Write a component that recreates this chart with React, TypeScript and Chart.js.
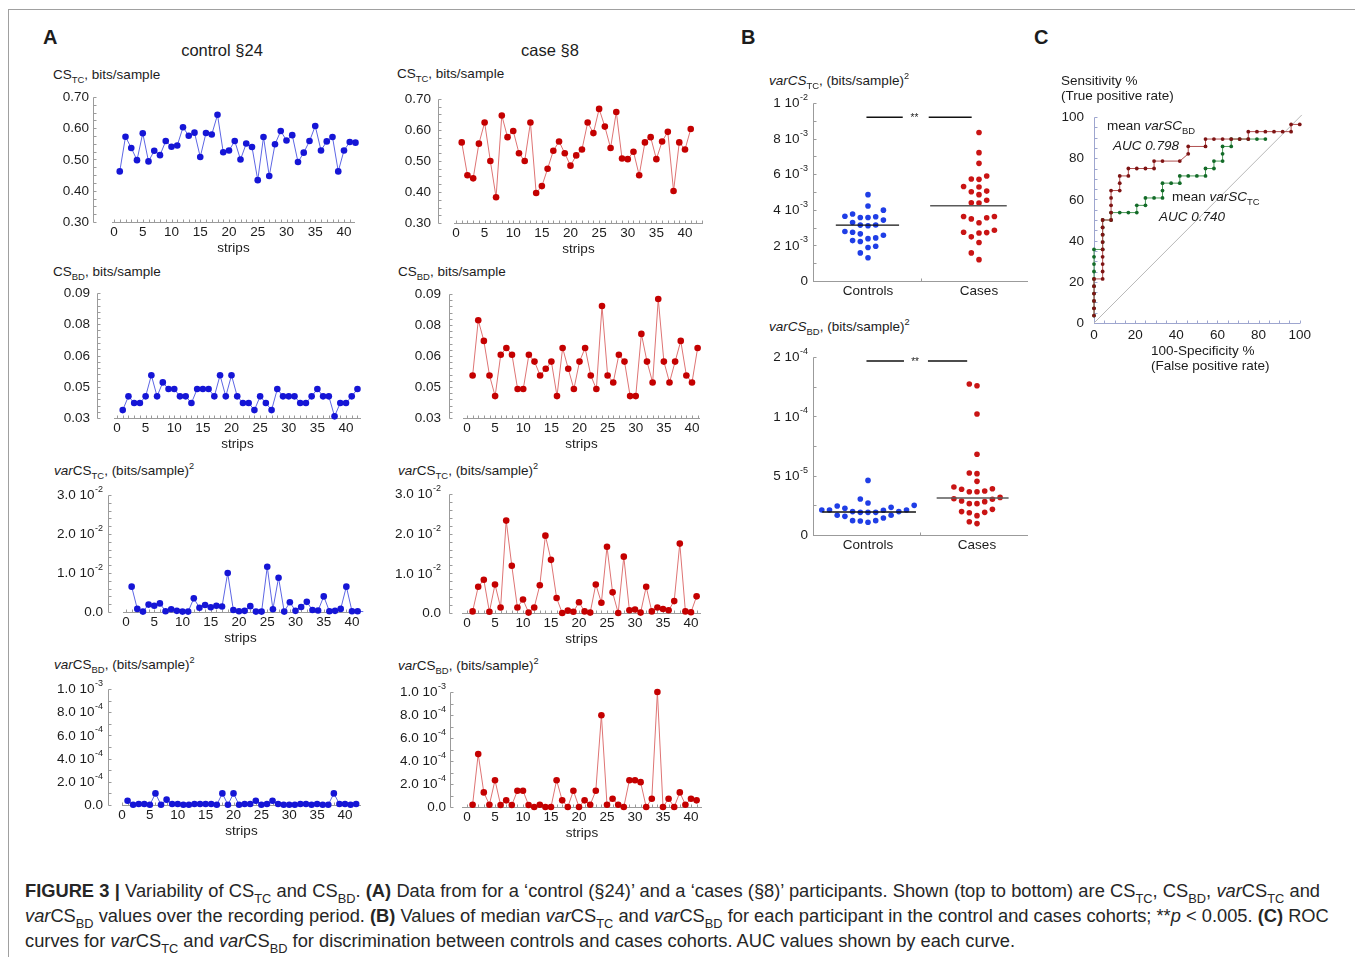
import React, { useEffect, useRef } from 'react';
import { Chart, registerables } from 'chart.js';

Chart.register(...registerables);

const FONT = '"Liberation Sans", Arial, Helvetica, sans-serif';
const INK = '#1c1c1c';
const AXIS_GREY = '#9b9b9b';

// ================= Panel A data (strip-by-strip values) =================
const stripTicks = [0, 5, 10, 15, 20, 25, 30, 35, 40];

const ctrlCSTC = [0.462, 0.573, 0.537, 0.498, 0.584, 0.494, 0.528, 0.514, 0.559, 0.541, 0.545, 0.603, 0.576, 0.586, 0.508, 0.585, 0.580, 0.643, 0.523, 0.529, 0.559, 0.500, 0.551, 0.540, 0.434, 0.572, 0.447, 0.549, 0.591, 0.561, 0.578, 0.492, 0.522, 0.559, 0.607, 0.529, 0.558, 0.572, 0.462, 0.529, 0.556, 0.554];
const caseCSTC = [0.560, 0.454, 0.444, 0.556, 0.624, 0.500, 0.383, 0.647, 0.577, 0.597, 0.525, 0.500, 0.624, 0.397, 0.419, 0.475, 0.533, 0.563, 0.525, 0.485, 0.518, 0.537, 0.624, 0.590, 0.668, 0.611, 0.542, 0.658, 0.508, 0.506, 0.530, 0.454, 0.560, 0.577, 0.506, 0.563, 0.594, 0.403, 0.560, 0.537, 0.603];
const ctrlCSBD = [0.0338, 0.0404, 0.0372, 0.0372, 0.0404, 0.0505, 0.0404, 0.0471, 0.0439, 0.0439, 0.0404, 0.0404, 0.0372, 0.0439, 0.0439, 0.0439, 0.0404, 0.0505, 0.0404, 0.0505, 0.0404, 0.0372, 0.0372, 0.0338, 0.0404, 0.0372, 0.0338, 0.0439, 0.0404, 0.0404, 0.0404, 0.0372, 0.0372, 0.0404, 0.0439, 0.0404, 0.0404, 0.0308, 0.0372, 0.0372, 0.0404, 0.0439];
const caseCSBD = [0.0506, 0.0773, 0.0673, 0.0506, 0.0406, 0.0606, 0.0639, 0.0606, 0.0440, 0.0440, 0.0606, 0.0573, 0.0506, 0.0538, 0.0573, 0.0406, 0.0639, 0.0538, 0.0440, 0.0573, 0.0639, 0.0506, 0.0440, 0.0842, 0.0506, 0.0472, 0.0606, 0.0573, 0.0406, 0.0406, 0.0707, 0.0573, 0.0472, 0.0876, 0.0573, 0.0472, 0.0573, 0.0673, 0.0506, 0.0472, 0.0639];
// varCS_TC in units of 1e-2 (bits/sample)^2
const ctrlVarCSTC_e2 = [0.65, 0.08, 0.01, 0.19, 0.16, 0.22, 0.02, 0.07, 0.03, 0.01, 0.01, 0.35, 0.11, 0.18, 0.12, 0.16, 0.14, 1.00, 0.05, 0.02, 0.03, 0.15, 0.01, 0.01, 1.16, 0.07, 0.88, 0.01, 0.25, 0.03, 0.13, 0.26, 0.05, 0.04, 0.40, 0.02, 0.03, 0.08, 0.65, 0.02, 0.02, 0.01];
const caseVarCSTC_e2 = [0.04, 0.66, 0.84, 0.03, 0.72, 0.14, 2.33, 1.19, 0.14, 0.34, 0.01, 0.14, 0.70, 1.95, 1.34, 0.38, 0.00, 0.06, 0.03, 0.27, 0.04, 0.01, 0.72, 0.26, 1.67, 0.52, 0.00, 1.42, 0.07, 0.09, 0.01, 0.66, 0.04, 0.14, 0.10, 0.07, 0.30, 1.75, 0.04, 0.02, 0.42];
// varCS_BD in units of 1e-4 (bits/sample)^2
const ctrlVarCSBD_e4 = [0.37, 0.02, 0.09, 0.09, 0.02, 1.00, 0.02, 0.46, 0.09, 0.09, 0.02, 0.02, 0.09, 0.09, 0.09, 0.09, 0.02, 1.00, 0.02, 1.00, 0.02, 0.09, 0.09, 0.37, 0.02, 0.09, 0.37, 0.09, 0.02, 0.02, 0.02, 0.09, 0.09, 0.02, 0.09, 0.02, 0.02, 1.00, 0.09, 0.09, 0.02, 0.09];
const caseVarCSBD_e4 = [0.20, 4.60, 1.27, 0.20, 2.33, 0.17, 0.58, 0.17, 1.41, 1.41, 0.17, 0.00, 0.20, 0.00, 0.00, 2.33, 0.58, 0.00, 1.41, 0.00, 0.58, 0.20, 1.41, 7.98, 0.20, 0.72, 0.20, 0.00, 2.33, 2.33, 2.16, 0.00, 0.72, 10.0, 0.00, 0.72, 0.00, 1.27, 0.20, 0.72, 0.58];

// ================= Panel B data (median per participant) =================
const groupLabels = ['Controls', 'Cases'];
const ctrlMedVarTC_e3 = [4.85, 4.21, 3.98, 3.76, 3.64, 3.61, 3.57, 3.57, 3.42, 3.29, 3.15, 3.14, 3.10, 2.78, 2.74, 2.65, 2.57, 2.42, 2.38, 2.27, 2.22, 1.95, 1.88, 1.58, 1.31];
const caseMedVarTC_e3 = [8.34, 7.21, 6.61, 5.90, 5.73, 5.71, 5.31, 5.28, 5.05, 5.01, 4.85, 4.54, 4.39, 4.38, 3.62, 3.62, 3.55, 3.49, 3.27, 2.85, 2.74, 2.72, 2.70, 2.48, 2.16, 1.58, 1.20];
const ctrlMedVarBD_e5 = [4.60, 3.03, 2.70, 2.50, 2.44, 2.33, 2.25, 2.11, 2.11, 2.11, 2.08, 1.97, 1.97, 1.91, 1.91, 1.91, 1.66, 1.66, 1.57, 1.43, 1.21, 1.21, 1.18, 1.07];
const caseMedVarBD_e5 = [12.72, 12.58, 10.2, 6.80, 5.22, 5.17, 4.52, 4.04, 3.90, 3.85, 3.71, 3.65, 3.65, 3.17, 3.06, 3.01, 2.87, 2.81, 2.64, 2.64, 2.16, 1.97, 1.91, 1.88, 1.63, 1.12, 0.96];
const groupMedianVarTC = [3.14e-3, 4.23e-3];
const groupMedianVarBD = [1.94e-5, 3.12e-5];

// ================= Panel C data (ROC) =================
const rocTicks = [0, 20, 40, 60, 80, 100];
const rocBD_fpr = [0, 0, 0, 0, 0, 0, 4.2, 4.2, 4.2, 4.2, 4.2, 4.2, 4.2, 4.2, 4.2, 8.3, 8.3, 8.3, 8.3, 8.3, 12.5, 12.5, 12.5, 16.7, 16.7, 20.8, 25, 29.2, 29.2, 33.3, 41.7, 45.8, 45.8, 54.2, 54.2, 58.3, 62.5, 66.7, 70.8, 75, 75, 79.2, 83.3, 87.5, 91.7, 95.8, 95.8, 100];
const rocBD_tpr = [3.6, 7.1, 10.7, 14.3, 17.9, 21.4, 21.4, 25, 28.6, 32.1, 35.7, 39.3, 42.9, 46.4, 50, 50, 53.6, 57.1, 60.7, 64.3, 64.3, 67.9, 71.4, 71.4, 75, 75, 75, 75, 78.6, 78.6, 78.6, 82.1, 85.7, 85.7, 89.3, 89.3, 89.3, 89.3, 89.3, 89.3, 92.9, 92.9, 92.9, 92.9, 92.9, 92.9, 96.4, 96.4];
const rocTC_fpr = [0, 0, 0, 0, 0, 0, 0, 0, 0, 0, 4.2, 4.2, 4.2, 4.2, 4.2, 8.3, 8.3, 12.5, 16.7, 20.8, 20.8, 25, 25, 29.2, 33.3, 33.3, 33.3, 37.5, 41.7, 41.7, 45.8, 50, 54.2, 54.2, 58.3, 58.3, 62.5, 62.5, 62.5, 66.7, 66.7, 70.8, 75, 79.2, 83.3];
const rocTC_tpr = [3.6, 7.1, 10.7, 14.3, 17.9, 21.4, 25, 28.6, 32.1, 35.7, 35.7, 39.3, 42.9, 46.4, 50, 50, 53.6, 53.6, 53.6, 53.6, 57.1, 57.1, 60.7, 60.7, 60.7, 64.3, 67.9, 67.9, 67.9, 71.4, 71.4, 71.4, 71.4, 75, 75, 78.6, 78.6, 82.1, 85.7, 85.7, 89.3, 89.3, 89.3, 89.3, 89.3];
const chanceLine = [0, 101];

// ================= tick label tables =================
type Tick = { v: number; base: string; sup?: string };
const ticksCSTC: Tick[] = [
  { v: 0.3, base: '0.30' }, { v: 0.4, base: '0.40' }, { v: 0.5, base: '0.50' }, { v: 0.6, base: '0.60' }, { v: 0.7, base: '0.70' },
];
const ticksCSBD: Tick[] = [
  { v: 0.03, base: '0.03' }, { v: 0.045, base: '0.05' }, { v: 0.06, base: '0.06' }, { v: 0.075, base: '0.08' }, { v: 0.09, base: '0.09' },
];
const ticksVarTC: Tick[] = [
  { v: 0, base: '0.0' }, { v: 0.01, base: '1.0 10', sup: '-2' }, { v: 0.02, base: '2.0 10', sup: '-2' }, { v: 0.03, base: '3.0 10', sup: '-2' },
];
const ticksVarBD: Tick[] = [
  { v: 0, base: '0.0' }, { v: 2e-4, base: '2.0 10', sup: '-4' }, { v: 4e-4, base: '4.0 10', sup: '-4' },
  { v: 6e-4, base: '6.0 10', sup: '-4' }, { v: 8e-4, base: '8.0 10', sup: '-4' }, { v: 1e-3, base: '1.0 10', sup: '-3' },
];
const ticksB1: Tick[] = [
  { v: 0, base: '0' }, { v: 2e-3, base: '2 10', sup: '-3' }, { v: 4e-3, base: '4 10', sup: '-3' },
  { v: 6e-3, base: '6 10', sup: '-3' }, { v: 8e-3, base: '8 10', sup: '-3' }, { v: 1e-2, base: '1 10', sup: '-2' },
];
// axis runs 0 .. 1.5e-4; the top label is printed rounded to one digit
const ticksB2: Tick[] = [
  { v: 0, base: '0' }, { v: 5e-5, base: '5 10', sup: '-5' }, { v: 1e-4, base: '1 10', sup: '-4' }, { v: 1.5e-4, base: '2 10', sup: '-4' },
];
const ticksROC: Tick[] = rocTicks.map((v) => ({ v, base: String(v) }));

function steps(a: number, b: number, s: number) {
  const r: number[] = [];
  for (let k = 0; a + k * s <= b + s * 1e-6; k++) r.push(a + k * s);
  return r;
}

// ================= drawing helpers =================
function drawTickLabel(ctx: CanvasRenderingContext2D, right: number, y: number, t: Tick) {
  const baseFont = `13.5px ${FONT}`;
  const supFont = `9px ${FONT}`;
  ctx.font = supFont;
  const ws = t.sup ? ctx.measureText(t.sup).width + 0.5 : 0;
  ctx.font = baseFont;
  const wb = ctx.measureText(t.base).width;
  ctx.textAlign = 'left';
  ctx.textBaseline = 'middle';
  ctx.fillText(t.base, right - ws - wb, y + 0.5);
  if (t.sup) {
    ctx.font = supFont;
    ctx.fillText(t.sup, right - ws + 0.5, y - 5.5);
  }
}

interface AxisSpec {
  yOffset: number;
  labelRight: number;
  yMin: number;
  yMax: number;
  yTicks: Tick[];
  yMinor: number[];
  xFrom: number;
  xTo: number;
  xMinor: number[];
  tickLen: number;
  color: string;
  after?: (chart: any, ctx: CanvasRenderingContext2D) => void;
}

function axesPlugin(spec: AxisSpec) {
  return {
    id: 'detachedAxes',
    beforeDatasetsDraw(chart: any) {
      const ctx: CanvasRenderingContext2D = chart.ctx;
      const xs = chart.scales.x;
      const ys = chart.scales.y;
      const area = chart.chartArea;
      const ax = Math.round(area.left + spec.yOffset) + 0.5;
      const yb = Math.round(ys.getPixelForValue(spec.yMin)) + 0.5;
      const yt = Math.round(ys.getPixelForValue(spec.yMax)) + 0.5;
      ctx.save();
      ctx.strokeStyle = spec.color;
      ctx.lineWidth = 1;
      ctx.beginPath();
      ctx.moveTo(ax, yt);
      ctx.lineTo(ax, yb);
      for (const v of spec.yMinor) {
        const y = Math.round(ys.getPixelForValue(v)) + 0.5;
        ctx.moveTo(ax, y);
        ctx.lineTo(ax + spec.tickLen, y);
      }
      const x1 = Math.round(xs.getPixelForValue(spec.xFrom));
      const x2 = Math.round(xs.getPixelForValue(spec.xTo));
      ctx.moveTo(x1, yb);
      ctx.lineTo(x2, yb);
      for (const v of spec.xMinor) {
        const x = Math.round(xs.getPixelForValue(v)) + 0.5;
        ctx.moveTo(x, yb);
        ctx.lineTo(x, yb - spec.tickLen);
      }
      ctx.stroke();
      ctx.fillStyle = INK;
      for (const t of spec.yTicks) {
        drawTickLabel(ctx, area.left + spec.labelRight, ys.getPixelForValue(t.v), t);
      }
      if (spec.after) spec.after(chart, ctx);
      ctx.restore();
    },
  };
}

const baseOptions = {
  responsive: false,
  animation: false,
  devicePixelRatio: 1,
  events: [],
  plugins: { legend: { display: false }, tooltip: { enabled: false } },
};

function xTickScale(min: number, max: number, values: number[], labels: (v: number) => string, padding: number, height: number, title?: any) {
  return {
    type: 'linear',
    min,
    max,
    grid: { display: false, drawTicks: false },
    border: { display: false },
    afterBuildTicks: (s: any) => {
      s.ticks = values.map((v) => ({ value: v }));
    },
    afterFit: (s: any) => {
      s.height = height;
    },
    ticks: {
      autoSkip: false,
      maxRotation: 0,
      minRotation: 0,
      padding,
      color: INK,
      font: { family: FONT, size: 13.5 },
      callback: (v: any) => labels(Number(v)),
    },
    title: title || { display: false },
  };
}

type Box = { left: number; top: number; width: number; height: number; config: any };

// ================= Panel A builder =================
interface SeriesPanel {
  values: number[];
  kind: 'ctrl' | 'case';
  yMin: number;
  yMax: number;
  yTicks: Tick[];
  yMinor: number[];
  yAxisX: number;
  labelRight: number;
  left: number;
  right: number;
  top: number;
  bottom: number;
  x0: number;
  x40: number;
}

const SERIES_COLORS = {
  ctrl: { pt: '#1515d6', line: '#5d66e4' },
  case: { pt: '#c40000', line: '#de7474' },
};

function seriesBox(p: SeriesPanel): Box {
  const cl = p.yAxisX - 72;
  const ct = p.top - 10;
  const HX = 34;
  const width = p.right + 10 - cl;
  const height = p.bottom + HX + 2 - ct;
  const ppu = (p.x40 - p.x0) / 40;
  const xmin = (p.left - p.x0) / ppu;
  const xmax = (p.right - p.x0) / ppu;
  const col = SERIES_COLORS[p.kind];
  const config = {
    type: 'scatter',
    data: {
      datasets: [
        {
          data: p.values.map((v, i) => ({ x: i + 1, y: v })),
          showLine: true,
          borderColor: col.line,
          borderWidth: 1,
          pointRadius: 3.3,
          pointHoverRadius: 3.3,
          pointBackgroundColor: col.pt,
          pointBorderWidth: 0,
          clip: false,
        },
      ],
    },
    options: {
      ...baseOptions,
      layout: { padding: { left: p.left - cl, top: 10, right: 10, bottom: 2 } },
      scales: {
        x: xTickScale(xmin, xmax, stripTicks, (v) => String(v), 2, HX, {
          display: true,
          text: 'strips',
          color: INK,
          font: { family: FONT, size: 13.5 },
          padding: 0,
        }),
        y: { type: 'linear', min: p.yMin, max: p.yMax, display: false },
      },
    },
    plugins: [
      axesPlugin({
        yOffset: p.yAxisX - p.left,
        labelRight: p.labelRight - p.left,
        yMin: p.yMin,
        yMax: p.yMax,
        yTicks: p.yTicks,
        yMinor: p.yMinor,
        xFrom: xmin,
        xTo: xmax,
        xMinor: steps(Math.ceil(xmin), Math.floor(xmax), 1),
        tickLen: 3,
        color: AXIS_GREY,
      }),
    ],
  };
  return { left: cl, top: ct, width, height, config };
}

const seriesPanels: SeriesPanel[] = [
  { values: ctrlCSTC, kind: 'ctrl', yMin: 0.3, yMax: 0.7, yTicks: ticksCSTC, yMinor: steps(0.3, 0.7, 0.025), yAxisX: 93, labelRight: 89, left: 112, right: 355, top: 97, bottom: 222, x0: 114, x40: 344 },
  { values: caseCSTC, kind: 'case', yMin: 0.3, yMax: 0.7, yTicks: ticksCSTC, yMinor: steps(0.3, 0.7, 0.025), yAxisX: 438, labelRight: 431, left: 454, right: 703, top: 99, bottom: 223, x0: 456, x40: 685 },
  { values: ctrlCSBD, kind: 'ctrl', yMin: 0.03, yMax: 0.09, yTicks: ticksCSBD, yMinor: steps(0.03, 0.09, 0.003), yAxisX: 97, labelRight: 90, left: 114, right: 361, top: 293, bottom: 418, x0: 117, x40: 346 },
  { values: caseCSBD, kind: 'case', yMin: 0.03, yMax: 0.09, yTicks: ticksCSBD, yMinor: steps(0.03, 0.09, 0.003), yAxisX: 449, labelRight: 441, left: 463, right: 700, top: 294, bottom: 418, x0: 467, x40: 692 },
  { values: ctrlVarCSTC_e2.map((v) => v * 1e-2), kind: 'ctrl', yMin: 0, yMax: 0.03, yTicks: ticksVarTC, yMinor: steps(0, 0.03, 0.002), yAxisX: 108, labelRight: 103, left: 123, right: 358, top: 495, bottom: 612, x0: 126, x40: 352 },
  { values: caseVarCSTC_e2.map((v) => v * 1e-2), kind: 'case', yMin: 0, yMax: 0.03, yTicks: ticksVarTC, yMinor: steps(0, 0.03, 0.002), yAxisX: 449, labelRight: 441, left: 462, right: 701, top: 494, bottom: 613, x0: 467, x40: 691 },
  { values: ctrlVarCSBD_e4.map((v) => v * 1e-4), kind: 'ctrl', yMin: 0, yMax: 1e-3, yTicks: ticksVarBD, yMinor: steps(0, 1e-3, 1e-4), yAxisX: 108, labelRight: 103, left: 122, right: 361, top: 689, bottom: 805, x0: 122, x40: 345 },
  { values: caseVarCSBD_e4.map((v) => v * 1e-4), kind: 'case', yMin: 0, yMax: 1e-3, yTicks: ticksVarBD, yMinor: steps(0, 1e-3, 1e-4), yAxisX: 450, labelRight: 446, left: 462, right: 702, top: 692, bottom: 807, x0: 467, x40: 691 },
];

// ================= Panel B builder =================
function swarmOffsets(values: number[], pxPerY: number, colPx: number, minSep: number) {
  const order = values.map((_, i) => i).sort((a, b) => values[a] - values[b]);
  const placed: { col: number; y: number }[] = [];
  const off = new Array(values.length).fill(0);
  for (const i of order) {
    const y = values[i] * pxPerY;
    for (let k = 0; k < 60; k++) {
      const col = k === 0 ? 0 : k % 2 === 1 ? -(k + 1) / 2 : k / 2;
      if (placed.every((q) => q.col !== col || Math.abs(q.y - y) >= minSep)) {
        placed.push({ col, y });
        off[i] = col * colPx;
        break;
      }
    }
  }
  return off;
}

interface DotPanel {
  ctrl: number[];
  cases: number[];
  medians: number[];
  yMax: number;
  yTicks: Tick[];
  yMinor: number[];
  left: number;
  right: number;
  top: number;
  bottom: number;
  ctrlPx: number;
  casePx: number;
  medCtrlX: [number, number];
  medCaseX: [number, number];
  sigY: number;
  sigSegs: [number, number][];
  starX: number;
  divider: number;
}

function dotBox(p: DotPanel): Box {
  const cl = p.left - 75;
  const ct = p.top - 14;
  const HX = 22;
  const width = p.right + 8 - cl;
  const height = p.bottom + HX + 2 - ct;
  const ppu = p.casePx - p.ctrlPx;
  const xmin = 1 - (p.ctrlPx - p.left) / ppu;
  const xmax = 2 + (p.right - p.casePx) / ppu;
  const pxPerY = (p.bottom - p.top) / p.yMax;
  const offC = swarmOffsets(p.ctrl, pxPerY, 7.7, 7.6).map((o) => o / ppu);
  const offK = swarmOffsets(p.cases, pxPerY, 7.7, 7.6).map((o) => o / ppu);
  const seg = (a: number, b: number, y: number, color: string, w: number) => ({
    data: [{ x: a, y }, { x: b, y }],
    showLine: true,
    borderColor: color,
    borderWidth: w,
    pointRadius: 0,
    clip: false,
  });
  const config = {
    type: 'scatter',
    data: {
      datasets: [
        seg(p.medCtrlX[0], p.medCtrlX[1], p.medians[0], '#111111', 1.4),
        seg(p.medCaseX[0], p.medCaseX[1], p.medians[1], '#5a5a5a', 1.6),
        ...p.sigSegs.map((s) => seg(s[0], s[1], p.sigY, '#111111', 1.4)),
        {
          data: p.ctrl.map((v, i) => ({ x: 1 + offC[i], y: v })),
          pointRadius: 2.8,
          pointHoverRadius: 2.8,
          pointBackgroundColor: '#1f3ee6',
          pointBorderWidth: 0,
          clip: false,
        },
        {
          data: p.cases.map((v, i) => ({ x: 2 + offK[i], y: v })),
          pointRadius: 2.8,
          pointHoverRadius: 2.8,
          pointBackgroundColor: '#c91414',
          pointBorderWidth: 0,
          clip: false,
        },
      ],
    },
    options: {
      ...baseOptions,
      layout: { padding: { left: p.left - cl, top: p.top - ct, right: 8, bottom: 2 } },
      scales: {
        x: xTickScale(xmin, xmax, [1, 2], (v) => groupLabels[Math.round(v) - 1] || '', 2, HX),
        y: { type: 'linear', min: 0, max: p.yMax, display: false },
      },
    },
    plugins: [
      axesPlugin({
        yOffset: 0,
        labelRight: -5,
        yMin: 0,
        yMax: p.yMax,
        yTicks: p.yTicks,
        yMinor: p.yMinor,
        xFrom: xmin,
        xTo: xmax,
        xMinor: [p.divider],
        tickLen: 3,
        color: AXIS_GREY,
        after: (chart, ctx) => {
          const xs = chart.scales.x;
          const ys = chart.scales.y;
          ctx.fillStyle = INK;
          ctx.font = `10px ${FONT}`;
          ctx.textAlign = 'center';
          ctx.textBaseline = 'middle';
          ctx.fillText('**', xs.getPixelForValue(p.starX), ys.getPixelForValue(p.sigY) + 1);
        },
      }),
    ],
  };
  return { left: cl, top: ct, width, height, config };
}

const dotPanels: DotPanel[] = [
  {
    ctrl: ctrlMedVarTC_e3.map((v) => v * 1e-3),
    cases: caseMedVarTC_e3.map((v) => v * 1e-3),
    medians: groupMedianVarTC,
    yMax: 1e-2,
    yTicks: ticksB1,
    yMinor: steps(0, 1e-2, 1e-3),
    left: 813, right: 1028, top: 103, bottom: 281, ctrlPx: 868, casePx: 979,
    medCtrlX: [0.71, 1.28], medCaseX: [1.56, 2.25],
    sigY: 9.2e-3, sigSegs: [[0.986, 1.313], [1.547, 1.934]], starX: 1.418, divider: 1.476,
  },
  {
    ctrl: ctrlMedVarBD_e5.map((v) => v * 1e-5),
    cases: caseMedVarBD_e5.map((v) => v * 1e-5),
    medians: groupMedianVarBD,
    yMax: 1.5e-4,
    yTicks: ticksB2,
    yMinor: steps(0, 1.5e-4, 2.5e-5),
    left: 813, right: 1028, top: 357, bottom: 535, ctrlPx: 868, casePx: 977,
    medCtrlX: [0.58, 1.44], medCaseX: [1.63, 2.29],
    sigY: 1.466e-4, sigSegs: [[0.986, 1.33], [1.55, 1.91]], starX: 1.432, divider: 1.48,
  },
];

// ================= Panel C builder =================
function rocBox(): Box {
  const L = 1094, R = 1301, TOP = 117, BOT = 323;
  const cl = L - 46, ct = TOP - 12, HX = 20;
  const width = R + 14 - cl;
  const height = BOT + HX + 2 - ct;
  const line = (xs: number[], ys: number[], col: string, pt: string, r: number) => ({
    data: xs.map((x, i) => ({ x, y: ys[i] })),
    showLine: true,
    borderColor: col,
    borderWidth: 1,
    pointRadius: r,
    pointHoverRadius: r,
    pointBackgroundColor: pt,
    pointBorderWidth: 0,
    clip: false,
  });
  const config = {
    type: 'scatter',
    data: {
      datasets: [
        line(rocBD_fpr, rocBD_tpr, '#b05050', '#7e1414', 1.9),
        line(rocTC_fpr, rocTC_tpr, '#4c9a5a', '#136b28', 1.9),
        line(chanceLine, chanceLine, '#b8b8b8', '#b8b8b8', 0),
      ],
    },
    options: {
      ...baseOptions,
      layout: { padding: { left: L - cl, top: TOP - ct, right: 14, bottom: 2 } },
      scales: {
        x: xTickScale(0, 100, rocTicks, (v) => String(v), 4, HX),
        y: { type: 'linear', min: 0, max: 100, display: false },
      },
    },
    plugins: [
      axesPlugin({
        yOffset: 0,
        labelRight: -10,
        yMin: 0,
        yMax: 100,
        yTicks: ticksROC,
        yMinor: steps(0, 100, 5),
        xFrom: 0,
        xTo: 100,
        xMinor: steps(0, 100, 5),
        tickLen: 3,
        color: '#9ea6cf',
      }),
    ],
  };
  return { left: cl, top: ct, width, height, config };
}

// ================= React components =================
function ChartCanvas({ box }: { box: Box }) {
  const ref = useRef<HTMLCanvasElement>(null);
  useEffect(() => {
    const chart = new Chart(ref.current as HTMLCanvasElement, box.config);
    return () => chart.destroy();
  }, []);
  return (
    <canvas
      ref={ref}
      width={box.width}
      height={box.height}
      style={{ position: 'absolute', left: box.left, top: box.top, width: box.width, height: box.height }}
    />
  );
}

function T({ x, y, size = 13.5, center = false, bold = false, italic = false, color = INK, children }: any) {
  return (
    <div
      style={{
        position: 'absolute',
        left: x,
        top: y - size * 0.6,
        fontSize: size,
        lineHeight: `${size * 1.2}px`,
        fontFamily: FONT,
        color,
        whiteSpace: 'nowrap',
        fontWeight: bold ? 700 : 400,
        fontStyle: italic ? 'italic' : 'normal',
        transform: center ? 'translateX(-50%)' : undefined,
      }}
    >
      {children}
    </div>
  );
}

const Sub = ({ children }: any) => (
  <span style={{ fontSize: '0.7em', position: 'relative', top: '0.45em', lineHeight: 0, fontStyle: 'normal' }}>{children}</span>
);
const Sup = ({ children }: any) => (
  <span style={{ fontSize: '0.68em', position: 'relative', top: '-0.6em', lineHeight: 0 }}>{children}</span>
);

export default function App() {
  const boxes: Box[] = [...seriesPanels.map(seriesBox), ...dotPanels.map(dotBox), rocBox()];
  return (
    <div
      style={{
        position: 'absolute',
        left: 0,
        top: 0,
        width: 1355,
        height: 957,
        overflow: 'hidden',
        background: '#ffffff',
        fontFamily: FONT,
      }}
    >
      <div style={{ position: 'absolute', left: 8, top: 9, width: 1400, height: 1000, borderTop: '1px solid #a0a0a0', borderLeft: '1px solid #a0a0a0' }} />

      {boxes.map((b, i) => (
        <ChartCanvas key={i} box={b} />
      ))}

      {/* panel letters and column titles */}
      <T x={43} y={37} size={20} bold>A</T>
      <T x={741} y={37} size={20} bold>B</T>
      <T x={1034} y={37} size={20} bold>C</T>
      <T x={222} y={51} size={16.5} center>control §24</T>
      <T x={550} y={51} size={16.5} center>case §8</T>

      {/* panel A titles */}
      <T x={53} y={75}>CS<Sub>TC</Sub>, bits/sample</T>
      <T x={397} y={74}>CS<Sub>TC</Sub>, bits/sample</T>
      <T x={53} y={272}>CS<Sub>BD</Sub>, bits/sample</T>
      <T x={398} y={272}>CS<Sub>BD</Sub>, bits/sample</T>
      <T x={54} y={471}><i>var</i>CS<Sub>TC</Sub>, (bits/sample)<Sup>2</Sup></T>
      <T x={398} y={471}><i>var</i>CS<Sub>TC</Sub>, (bits/sample)<Sup>2</Sup></T>
      <T x={54} y={665}><i>var</i>CS<Sub>BD</Sub>, (bits/sample)<Sup>2</Sup></T>
      <T x={398} y={666}><i>var</i>CS<Sub>BD</Sub>, (bits/sample)<Sup>2</Sup></T>

      {/* panel B titles */}
      <T x={769} y={81}><i>varCS</i><Sub>TC</Sub>, (bits/sample)<Sup>2</Sup></T>
      <T x={769} y={327}><i>varCS</i><Sub>BD</Sub>, (bits/sample)<Sup>2</Sup></T>

      {/* panel C labels */}
      <T x={1061} y={81}>Sensitivity %</T>
      <T x={1061} y={96}>(True positive rate)</T>
      <T x={1151} y={351}>100-Specificity %</T>
      <T x={1151} y={366}>(False positive rate)</T>
      <T x={1107} y={126}>mean <i>varSC</i><Sub>BD</Sub></T>
      <T x={1113} y={146} italic>AUC 0.798</T>
      <T x={1172} y={197}>mean <i>varSC</i><Sub>TC</Sub></T>
      <T x={1159} y={217} italic>AUC 0.740</T>

      {/* caption */}
      <div
        style={{
          position: 'absolute',
          left: 25,
          top: 878,
          fontFamily: FONT,
          fontSize: 18.3,
          lineHeight: '25px',
          color: '#262626',
          whiteSpace: 'nowrap',
        }}
      >
        <div style={{ width: 1295, textAlign: 'justify', textAlignLast: 'justify' } as any}>
          <b>FIGURE 3 |</b> Variability of CS<Sub>TC</Sub> and CS<Sub>BD</Sub>. <b>(A)</b> Data from for a ‘control (§24)’ and a ‘cases (§8)’ participants. Shown (top to bottom) are CS<Sub>TC</Sub>, CS<Sub>BD</Sub>, <i>var</i>CS<Sub>TC</Sub> and
        </div>
        <div>
          <i>var</i>CS<Sub>BD</Sub> values over the recording period. <b>(B)</b> Values of median <i>var</i>CS<Sub>TC</Sub> and <i>var</i>CS<Sub>BD</Sub> for each participant in the control and cases cohorts; **<i>p</i> &lt; 0.005. <b>(C)</b> ROC
        </div>
        <div>
          curves for <i>var</i>CS<Sub>TC</Sub> and <i>var</i>CS<Sub>BD</Sub> for discrimination between controls and cases cohorts. AUC values shown by each curve.
        </div>
      </div>
    </div>
  );
}
